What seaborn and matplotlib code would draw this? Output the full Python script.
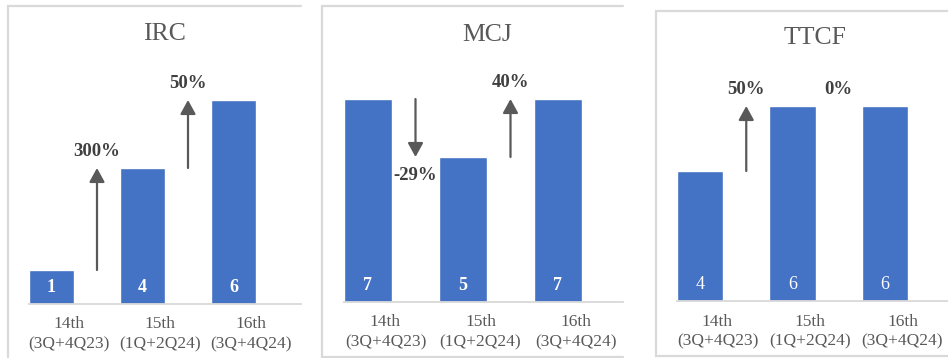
import numpy as np
import pandas as pd
import matplotlib
matplotlib.use("Agg")
import matplotlib.pyplot as plt
from matplotlib.lines import Line2D
import seaborn as sns

# Half-year reporting periods and the count recorded for each body
periods = ["14th\n(3Q+4Q23)", "15th\n(1Q+2Q24)", "16th\n(3Q+4Q24)"]
irc_counts = [1, 4, 6]
mcj_counts = [7, 5, 7]
ttcf_counts = [4, 6, 6]
titles = ["IRC", "MCJ", "TTCF"]

W, H = 948, 358
sns.set_theme(style="white")
plt.rcParams["font.family"] = ["Liberation Serif", "DejaVu Serif"]

BAR = "#4472C4"
FRAME = "#D9D9D9"
TEXT = "#595959"
DARK = "#404040"
ARROW = "#595959"

fig = plt.figure(figsize=(W / 100, H / 100), dpi=100)
fig.patch.set_facecolor("white")


def fx(px):
    return px / W


def fy(py):
    return 1 - py / H


def frame(points):
    xs = [fx(p[0]) for p in points]
    ys = [fy(p[1]) for p in points]
    fig.add_artist(Line2D(xs, ys, transform=fig.transFigure, color=FRAME,
                          lw=1.6, solid_joinstyle="miter"))


# panel borders (pixel coordinates)
frame([(7.5, 358), (7.5, 5.5), (301, 5.5)])
frame([(623, 6), (322, 6), (322, 357), (623, 357)])
frame([(948, 11), (656, 11), (656, 356), (948, 356)])

# layout of each panel in pixels
layouts = [
    dict(x0=29, x1=301, c0=51.5, step=91, base=304, ppu=34, title=(164.5, 33.5), bold=True),
    dict(x0=344, x1=623, c0=368, step=95, base=302, ppu=29, title=(487.5, 35), bold=True),
    dict(x0=677, x1=948, c0=700, step=92.5, base=301, ppu=32.5, title=(814.5, 38), bold=False),
]
series = [irc_counts, mcj_counts, ttcf_counts]

for name, counts, lay in zip(titles, series, layouts):
    ax = fig.add_axes([fx(lay["x0"]), fy(lay["base"]),
                       (lay["x1"] - lay["x0"]) / W, lay["base"] / H])
    ax.set_facecolor("none")
    df = pd.DataFrame({"period": periods, "count": counts})
    sns.barplot(data=df, x="period", y="count", color=BAR, saturation=1,
                width=0.5, ax=ax)
    ax.set_xlim((lay["x0"] - lay["c0"]) / lay["step"],
                (lay["x1"] - lay["c0"]) / lay["step"])
    ax.set_ylim(0, lay["base"] / lay["ppu"])
    ax.set_xlabel("")
    ax.set_ylabel("")
    ax.set_yticks([])
    shift = 17.5 / lay["step"]
    ax.set_xticks(np.arange(len(periods)) + shift, labels=periods)
    ax.tick_params(axis="x", length=0, pad=9, labelsize=12.5, labelcolor=TEXT)
    for lbl in ax.get_xticklabels():
        lbl.set_linespacing(1.3)
    for side in ("top", "left", "right"):
        ax.spines[side].set_visible(False)
    ax.spines["bottom"].set_color(FRAME)
    ax.spines["bottom"].set_linewidth(1.3)

    # counts printed inside the bars
    for i, v in enumerate(counts):
        ax.annotate(str(v), xy=(i, 0), xytext=(0, 11.8), textcoords="offset points",
                    ha="center", va="center", color="white", fontsize=13,
                    fontweight="bold" if lay["bold"] else "normal")

    # period-on-period change with arrows
    for i in range(len(counts) - 1):
        a, b = counts[i], counts[i + 1]
        pct = round((b - a) / a * 100)
        xm = i + 0.5
        if b != a:
            ax.annotate("", xy=(xm, b), xytext=(xm, a),
                        arrowprops=dict(arrowstyle="-|>,head_length=0.6,head_width=0.33",
                                        color=ARROW, lw=1.6, shrinkA=0, shrinkB=0,
                                        mutation_scale=14))
        dy = -13.5 if b < a else 12
        ax.annotate(f"{pct}%", xy=(xm, b), xytext=(0, dy), textcoords="offset points",
                    ha="center", va="center", color=DARK, fontsize=13.5,
                    fontweight="bold")

    fig.text(fx(lay["title"][0]), fy(lay["title"][1]), name, ha="center", va="center",
             fontsize=18.5, color=TEXT)

fig.savefig("out.png", dpi=100, facecolor="white")
